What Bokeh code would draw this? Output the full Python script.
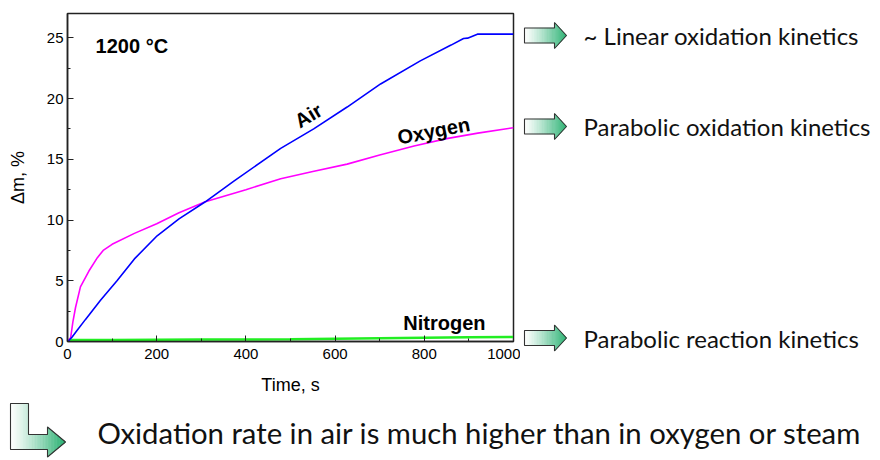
import numpy as np
from bokeh.plotting import figure
from bokeh.models import Range1d, Label, FixedTicker
from bokeh.layouts import column, row
from bokeh.embed import file_html
from bokeh.resources import INLINE

# ---------------- data ----------------
air_time = [0, 3, 10, 20, 40, 74, 111, 150, 201, 250, 309, 373, 478, 552, 627, 702, 791, 860, 888, 897, 919, 950, 1000]
air_dm = [0, 0.08, 0.35, 0.85, 1.8, 3.4, 5.0, 6.8, 8.7, 10.1, 11.5, 13.2, 15.9, 17.5, 19.3, 21.2, 23.1, 24.4, 24.94, 24.97, 25.3, 25.3, 25.3]

oxygen_time = [0, 7, 12, 18, 29, 48, 67, 80, 100, 150, 200, 250, 309, 400, 478, 550, 627, 700, 777, 850, 920, 1000]
oxygen_dm = [0, 0.3, 1.6, 2.8, 4.5, 5.8, 6.9, 7.5, 8.0, 8.9, 9.7, 10.6, 11.5, 12.5, 13.4, 14.0, 14.6, 15.35, 16.1, 16.7, 17.15, 17.6]

nitrogen_time = [0, 100, 200, 300, 400, 500, 600, 700, 800, 900, 1000]
nitrogen_dm = [0.12, 0.13, 0.15, 0.16, 0.17, 0.19, 0.22, 0.26, 0.30, 0.34, 0.38]

x_ticks = [0, 200, 400, 600, 800, 1000]
y_ticks = [0, 5, 10, 15, 20, 25]

series_names = ["Air", "Oxygen", "Nitrogen"]
series_colors = ["#0000ff", "#ff00ff", "#22ee22"]
kinetics_texts = ["~ Linear oxidation kinetics", "Parabolic oxidation kinetics", "Parabolic reaction kinetics"]
conclusion_text = "Oxidation rate in air is much higher than in oxygen or steam"
temperature_text = "1200 °C"
x_title = "Time, s"
y_title = "\u0394m, %"

# ---------------- main chart ----------------
AX = "#222222"
p = figure(width=520, height=400, x_range=Range1d(0, 1000), y_range=Range1d(0, 27),
           output_backend="svg", toolbar_location=None,
           min_border_left=67, min_border_right=7, min_border_top=13, min_border_bottom=59)
p.frame_align = False
p.xgrid.visible = False
p.ygrid.visible = False
p.outline_line_color = AX
p.outline_line_width = 1.5
p.outline_line_alpha = 1.0

p.xaxis.ticker = FixedTicker(ticks=x_ticks, minor_ticks=list(range(0, 1001, 100)))
p.yaxis.ticker = FixedTicker(ticks=y_ticks, minor_ticks=list(np.arange(0, 27.1, 2.5)))
for ax in (p.xaxis[0], p.yaxis[0]):
    ax.axis_line_color = AX
    ax.axis_line_width = 1.5
    ax.major_tick_in = 6
    ax.major_tick_out = 0
    ax.minor_tick_in = 3
    ax.minor_tick_out = 0
    ax.major_tick_line_color = AX
    ax.minor_tick_line_color = AX
    ax.major_tick_line_width = 1
    ax.minor_tick_line_width = 1
    ax.major_label_text_font = "Liberation Sans"
    ax.major_label_text_font_size = "15px"
    ax.major_label_text_color = "#000000"
    ax.axis_label_text_font = "Liberation Sans"
    ax.axis_label_text_font_size = "18px"
    ax.axis_label_text_font_style = "normal"
    ax.axis_label_text_color = "#000000"

p.xaxis.axis_label = x_title
p.yaxis.axis_label = y_title
p.xaxis.major_label_standoff = 7
p.yaxis.major_label_standoff = 4
p.xaxis.axis_label_standoff = 13
p.yaxis.axis_label_standoff = 16

p.line(nitrogen_time, nitrogen_dm, line_color=series_colors[2], line_width=2.5)
p.line(oxygen_time, oxygen_dm, line_color=series_colors[1], line_width=1.6)
p.line(air_time, air_dm, line_color=series_colors[0], line_width=1.6)

lab_font = "Liberation Sans"
p.add_layout(Label(x=63, y=24.3, text=temperature_text, text_font=lab_font, text_font_size="20px",
                   text_font_style="bold", text_color="#000000",
                   text_align="left", text_baseline="middle"))
p.add_layout(Label(x=540, y=18.6, text=series_names[0], text_font=lab_font, text_font_size="20px",
                   text_font_style="bold", text_color="#000000", text_align="center", text_baseline="middle",
                   angle=31, angle_units="deg"))
p.add_layout(Label(x=821, y=17.35, text=series_names[1], text_font=lab_font, text_font_size="20px",
                   text_font_style="bold", text_color="#000000", text_align="center", text_baseline="middle",
                   angle=11, angle_units="deg"))
p.add_layout(Label(x=753, y=1.5, text=series_names[2], text_font=lab_font, text_font_size="20px",
                   text_font_style="bold", text_color="#000000", text_align="left", text_baseline="middle"))

# ---------------- decorative gradient block arrows ----------------
START = np.array([255, 255, 255])
END = np.array([38, 176, 112])


def gradient_strips(regions, n_per_region=12):
    x_min = regions[0][0]
    x_max = regions[-1][1]
    xs, ys, cols = [], [], []
    for xa, xb, ta, tb, ba, bb in regions:
        edges = np.linspace(xa, xb, n_per_region + 1)
        for a, b in zip(edges[:-1], edges[1:]):
            fa = (a - xa) / (xb - xa)
            fb = (b - xa) / (xb - xa)
            top_a, top_b = ta + (tb - ta) * fa, ta + (tb - ta) * fb
            bot_a, bot_b = ba + (bb - ba) * fa, ba + (bb - ba) * fb
            xs.append([a, b, b, a])
            ys.append([top_a, top_b, bot_b, bot_a])
            t = ((a + b) / 2 - x_min) / (x_max - x_min)
            c = START + (END - START) * t ** 1.2
            cols.append("#%02x%02x%02x" % tuple(int(round(v)) for v in c))
    return xs, ys, cols


def draw_right_arrow(fig, x0, xh, x1, yc, sh, hh):
    regions = [(x0, xh, yc - sh, yc - sh, yc + sh, yc + sh),
               (xh, x1, yc - hh, yc, yc + hh, yc)]
    xs, ys, cols = gradient_strips(regions)
    fig.patches(xs, ys, fill_color=cols, line_color=cols, line_width=0.6)
    ox = [x0, xh, xh, x1, xh, xh, x0]
    oy = [yc - sh, yc - sh, yc - hh, yc, yc + hh, yc + sh, yc + sh]
    fig.patch(ox, oy, fill_color=None, line_color="#333333", line_width=1.1)


def draw_bent_arrow(fig, x0, xv, xh, x1, ytop, ym, sh, hh):
    regions = [(x0, xv, ytop, ytop, ym + sh, ym + sh),
               (xv, xh, ym - sh, ym - sh, ym + sh, ym + sh),
               (xh, x1, ym - hh, ym, ym + hh, ym)]
    xs, ys, cols = gradient_strips(regions)
    fig.patches(xs, ys, fill_color=cols, line_color=cols, line_width=0.6)
    ox = [x0, xv, xv, xh, xh, x1, xh, xh, x0]
    oy = [ytop, ytop, ym - sh, ym - sh, ym - hh, ym, ym + hh, ym + sh, ym + sh]
    fig.patch(ox, oy, fill_color=None, line_color="#333333", line_width=1.1)


# ---------------- right-hand annotation panel ----------------
pr = figure(width=360, height=400, x_range=Range1d(520, 880), y_range=Range1d(400, 0),
            output_backend="svg", toolbar_location=None, min_border=0,
            x_axis_location=None, y_axis_location=None)
pr.frame_align = False
pr.grid.visible = False
pr.outline_line_color = None

arrow_rows = [35, 126, 337.5]
for yc, txt in zip(arrow_rows, kinetics_texts):
    draw_right_arrow(pr, 524, 554, 566, yc, 7.5, 13)
    pr.add_layout(Label(x=583, y=yc, text=txt, text_font="Lato", text_font_size="24px",
                        text_color="#111111", text_align="left", text_baseline="middle"))

# ---------------- bottom conclusion panel ----------------
pb = figure(width=880, height=60, x_range=Range1d(0, 880), y_range=Range1d(460, 400),
            output_backend="svg", toolbar_location=None, min_border=0,
            x_axis_location=None, y_axis_location=None)
pb.frame_align = False
pb.grid.visible = False
pb.outline_line_color = None
draw_bent_arrow(pb, 10, 28, 47, 65, 403, 441.5, 7.5, 15)
pb.add_layout(Label(x=97, y=432, text=conclusion_text, text_font="Lato", text_font_size="29.3px",
                    text_color="#111111", text_align="left", text_baseline="middle"))

layout = column(row(p, pr, spacing=0), pb, spacing=0)
open("out.html", "w").write(file_html(layout, INLINE))
